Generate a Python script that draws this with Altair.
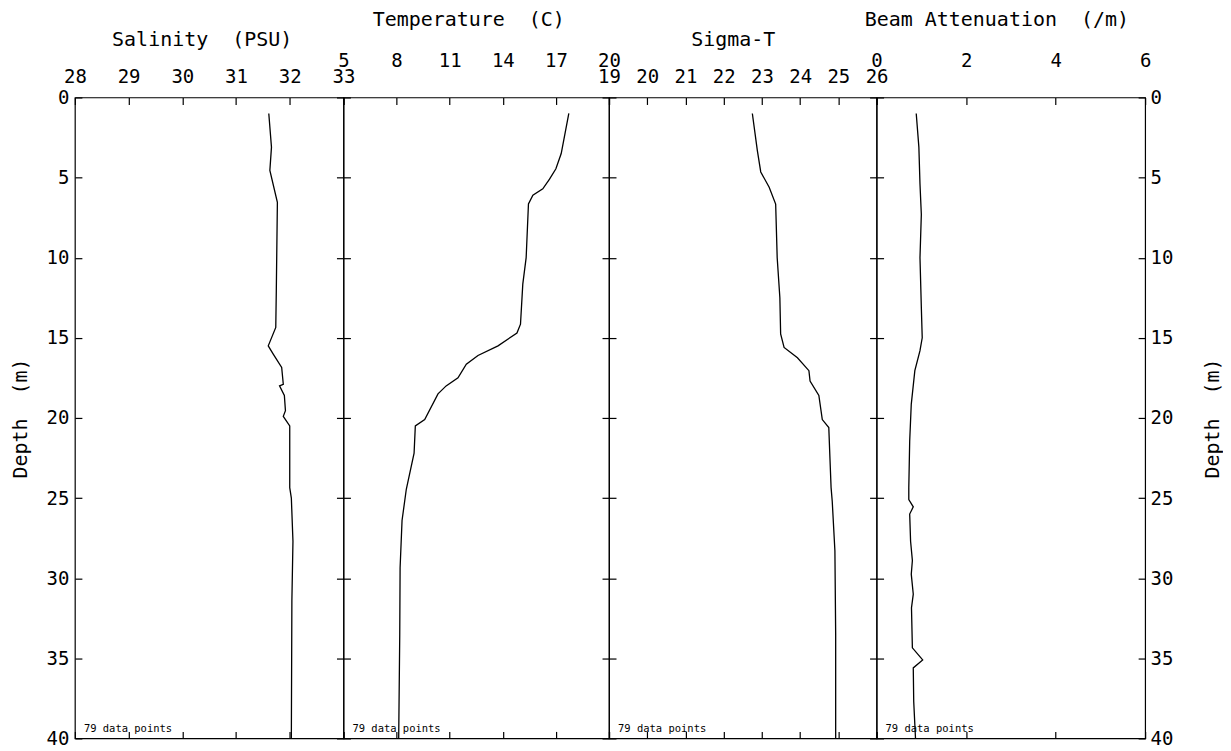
import altair as alt
import pandas as pd

# ---- data (depth in m, value in panel units) ----
sal_depth = [1.0, 3.1, 4.55, 6.55, 12.05, 14.35, 15.5, 16.0, 16.85, 17.9, 18.0, 18.6, 19.55, 19.9, 20.5, 24.35, 25.0, 27.7, 31.4, 40.0]
sal_value = [31.61, 31.66, 31.63, 31.77, 31.75, 31.74, 31.60, 31.69, 31.85, 31.88, 31.81, 31.90, 31.92, 31.88, 32.00, 32.00, 32.03, 32.06, 32.04, 32.03]

tmp_depth = [1.0, 3.5, 4.45, 5.1, 5.7, 6.1, 6.65, 10.0, 11.65, 14.15, 14.7, 15.5, 16.1, 16.65, 17.5, 18.0, 18.5, 20.1, 20.5, 22.2, 24.45, 26.4, 29.35, 33.5, 40.0]
tmp_value = [17.73, 17.3, 17.0, 16.64, 16.26, 15.7, 15.45, 15.32, 15.13, 15.0, 14.8, 13.73, 12.6, 11.94, 11.47, 10.8, 10.34, 9.59, 9.06, 8.99, 8.55, 8.31, 8.2, 8.18, 8.12]

sig_depth = [1.0, 3.3, 4.65, 5.6, 6.65, 10.0, 12.5, 14.75, 15.6, 16.25, 17.05, 17.7, 18.6, 20.1, 20.6, 22.5, 24.35, 25.2, 28.3, 33.5, 40.0]
sig_value = [22.75, 22.88, 22.97, 23.19, 23.36, 23.40, 23.47, 23.49, 23.58, 23.93, 24.23, 24.26, 24.49, 24.58, 24.75, 24.78, 24.81, 24.84, 24.91, 24.93, 24.93]

bat_depth = [1.0, 3.1, 5.4, 7.3, 10.0, 13.1, 15.0, 15.8, 17.05, 19.15, 21.45, 24.35, 25.1, 25.55, 26.0, 27.7, 28.9, 29.75, 31.0, 31.85, 34.35, 35.1, 35.6, 37.7, 40.0]
bat_value = [0.886, 0.945, 0.97, 1.0, 0.97, 1.0, 1.02, 0.97, 0.855, 0.775, 0.74, 0.72, 0.72, 0.82, 0.74, 0.76, 0.80, 0.775, 0.82, 0.78, 0.80, 1.03, 0.82, 0.83, 0.87]

titles = ["Salinity\u00a0 (PSU)", "Temperature\u00a0 (C)", "Sigma-T", "Beam Attenuation\u00a0 (/m)"]
domains = [[28, 33], [5, 20], [19, 26], [0, 6]]
tick_values = [[28, 29, 30, 31, 32, 33], [5, 8, 11, 14, 17, 20],
               [19, 20, 21, 22, 23, 24, 25, 26], [0, 2, 4, 6]]
depth_ticks = [0, 5, 10, 15, 20, 25, 30, 35, 40]
note = "79 data points"
depth_title = "Depth\u00a0 (m)"

FONT = "DejaVu Sans Mono"
LABEL_SIZE = 19
TITLE_SIZE = 20
INWARD = {"expr": "-7"}

series = [(sal_depth, sal_value), (tmp_depth, tmp_value), (sig_depth, sig_value), (bat_depth, bat_value)]
widths = [269, 266, 268, 269]
upper_row = [False, True, False, True]
title_x = [127, 125, 124, 120]
H = 642


def panel(i):
    depth, vals = series[i]
    df = pd.DataFrame({"depth": depth, "v": vals})
    W = widths[i]
    xs = alt.Scale(domain=domains[i], nice=False, zero=False)
    ys = alt.Scale(domain=[0, 40], reverse=True, nice=False, zero=False)
    up = upper_row[i]

    x_top = alt.Axis(
        orient="top", values=tick_values[i], format="d", tickSize=INWARD,
        tickColor="black", tickWidth=1.2, domain=False, grid=False,
        labelFont=FONT, labelFontSize=LABEL_SIZE, labelColor="black",
        labelPadding=(34 if up else 18), labelFlush=False, labelOverlap=False,
        title=titles[i], titleFont=FONT, titleFontSize=TITLE_SIZE, titleFontWeight="normal",
        titleColor="black", titleBaseline="middle", titleAlign="center",
        titleX=title_x[i], titleY=(-78 if up else -58),
    )
    if i == 0:
        y_left = alt.Axis(
            orient="left", values=depth_ticks, format="d", tickSize=INWARD,
            tickColor="black", tickWidth=1.2, domain=False, grid=False,
            labels=True, labelFont=FONT, labelFontSize=LABEL_SIZE, labelColor="black",
            labelPadding=13, labelFlush=False, labelOverlap=False,
            title=depth_title, titleFont=FONT, titleFontSize=TITLE_SIZE,
            titleFontWeight="normal", titleColor="black", titleAngle=270,
            titleBaseline="middle", titleX=-54,
        )
    else:
        y_left = alt.Axis(
            orient="left", values=depth_ticks, tickSize=INWARD, tickColor="black",
            tickWidth=1.2, domain=False, grid=False, labels=False, title=None,
        )
    x_bot = alt.Axis(
        orient="bottom", values=tick_values[i], tickSize=INWARD, tickColor="black",
        tickWidth=1.2, domain=False, grid=False, labels=False, title=None,
    )
    if i == 3:
        y_right = alt.Axis(
            orient="right", values=depth_ticks, format="d", tickSize=INWARD,
            tickColor="black", tickWidth=1.2, domain=False, grid=False,
            labels=True, labelFont=FONT, labelFontSize=LABEL_SIZE, labelColor="black",
            labelPadding=12, labelFlush=False, labelOverlap=False,
            title=depth_title, titleFont=FONT, titleFontSize=TITLE_SIZE,
            titleFontWeight="normal", titleColor="black", titleAngle=270,
            titleBaseline="middle", titleX=67,
        )
    else:
        y_right = alt.Axis(
            orient="right", values=depth_ticks, tickSize=INWARD, tickColor="black",
            tickWidth=1.2, domain=False, grid=False, labels=False, title=None,
        )

    line = alt.Chart(df).mark_line(color="black", strokeWidth=1.3).encode(
        x=alt.X("v:Q", scale=xs, axis=x_top),
        y=alt.Y("depth:Q", scale=ys, axis=y_left),
        order=alt.Order("depth:Q"),
    )
    txt_df = pd.DataFrame({"v": [domains[i][0]], "depth": [40], "label": [note]})
    txt = alt.Chart(txt_df).mark_text(
        align="left", baseline="middle", dx=9, dy=-9, font=FONT, fontSize=10.5, color="black"
    ).encode(
        x=alt.X("v:Q", scale=xs, axis=x_bot),
        y=alt.Y("depth:Q", scale=ys, axis=y_right),
        text="label:N",
    )
    return alt.layer(line, txt).resolve_axis(x="independent", y="independent").properties(
        width=W, height=H
    )


chart = alt.hconcat(*[panel(i) for i in range(4)], spacing=0, bounds="flush").properties(
    padding={"left": 2, "top": 0, "right": 0, "bottom": 0}
).configure(background="white").configure_view(stroke="black", strokeWidth=1.2)

chart.save("out.html", embed_options={"renderer": "svg", "actions": False})
